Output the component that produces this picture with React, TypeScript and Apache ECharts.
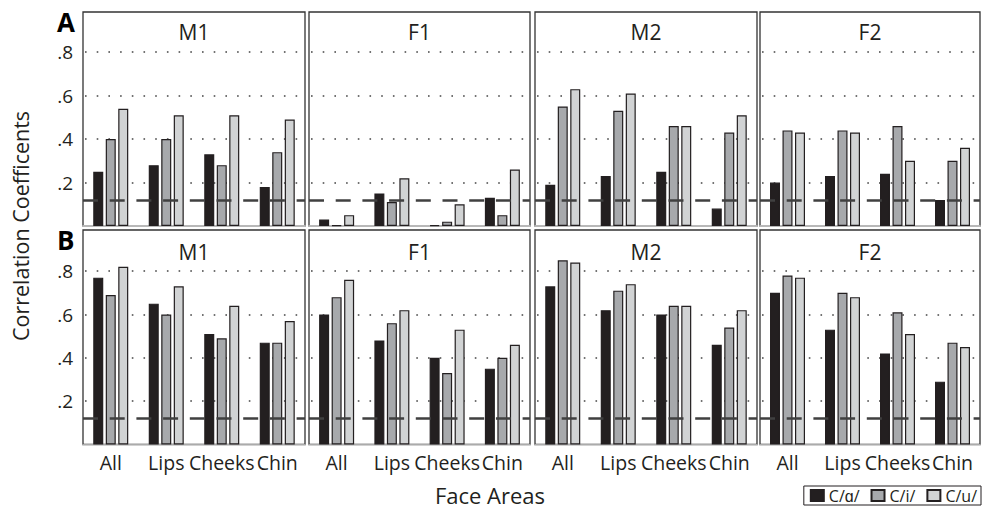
import React, { useEffect, useRef } from "react";
import * as echarts from "echarts";

const categories = ["All", "Lips", "Cheeks", "Chin"];
const speakers = ["M1", "F1", "M2", "F2"];
const vowels = ["C/ɑ/", "C/i/", "C/u/"];
const yTicks = [0.2, 0.4, 0.6, 0.8];
const threshold = 0.12;

// Row A: [C/ɑ/, C/i/, C/u/] per face area
const A_M1 = [[0.25, 0.28, 0.33, 0.18], [0.40, 0.40, 0.28, 0.34], [0.54, 0.51, 0.51, 0.49]];
const A_F1 = [[0.03, 0.15, 0.004, 0.13], [0.003, 0.11, 0.02, 0.05], [0.05, 0.22, 0.10, 0.26]];
const A_M2 = [[0.19, 0.23, 0.25, 0.08], [0.55, 0.53, 0.46, 0.43], [0.63, 0.61, 0.46, 0.51]];
const A_F2 = [[0.20, 0.23, 0.24, 0.12], [0.44, 0.44, 0.46, 0.30], [0.43, 0.43, 0.30, 0.36]];
// Row B
const B_M1 = [[0.77, 0.65, 0.51, 0.47], [0.69, 0.60, 0.49, 0.47], [0.82, 0.73, 0.64, 0.57]];
const B_F1 = [[0.60, 0.48, 0.40, 0.35], [0.68, 0.56, 0.33, 0.40], [0.76, 0.62, 0.53, 0.46]];
const B_M2 = [[0.73, 0.62, 0.60, 0.46], [0.85, 0.71, 0.64, 0.54], [0.84, 0.74, 0.64, 0.62]];
const B_F2 = [[0.70, 0.53, 0.42, 0.29], [0.78, 0.70, 0.61, 0.47], [0.77, 0.68, 0.51, 0.45]];

const rowsData = [
  [A_M1, A_F1, A_M2, A_F2],
  [B_M1, B_F1, B_M2, B_F2],
];

const FONT = '"Open Sans", sans-serif';
const INK = "#231f20";
const barColors = ["#231f20", "#a7a9ac", "#d1d3d4"];

const cols = [
  { left: 83, width: 222 },
  { left: 309, width: 221 },
  { left: 535, width: 222 },
  { left: 760, width: 220 },
];
const rows = [
  { top: 12, height: 214, max: 0.985, label: "A", titleY: 32 },
  { top: 230, height: 214.5, max: 0.99, label: "B", titleY: 252 },
];

export default function App() {
  const ref = useRef<HTMLDivElement>(null);
  useEffect(() => {
    const chart = echarts.init(ref.current!, null, { renderer: "svg" });
    const grid: any[] = [];
    const xAxis: any[] = [];
    const yAxis: any[] = [];
    const series: any[] = [];
    const graphic: any[] = [];
    rows.forEach((r, ri) => {
      graphic.push({
        type: "text",
        x: 57,
        y: r.top + 10,
        style: { text: r.label, font: `bold 26px ${FONT}`, fill: "#000", verticalAlign: "middle", lineHeight: 24 },
      });
      cols.forEach((c, ci) => {
        const gi = grid.length;
        grid.push({
          left: c.left,
          top: r.top,
          width: c.width,
          height: r.height,
          show: true,
          borderColor: "#333",
          borderWidth: 1.3,
          backgroundColor: "#fff",
        });
        xAxis.push({
          type: "category",
          gridIndex: gi,
          data: categories,
          axisTick: { show: false },
          axisLine: { show: true, onZero: false, offset: 2, lineStyle: { color: "#d4d4d4", width: 1.5 } },
          axisLabel: {
            show: ri === 1,
            interval: 0,
            fontSize: 19.5,
            fontFamily: FONT,
            color: INK,
            margin: 8,
          },
        });
        yAxis.push({
          type: "value",
          gridIndex: gi,
          min: 0,
          max: r.max,
          interval: 0.2,
          axisLine: { show: false },
          axisTick: { show: false },
          splitLine: {
            show: true,
            showMinLine: false,
            showMaxLine: false,
            lineStyle: { type: [1.6, 10.1], color: "#444", width: 1.6, dashOffset: -2 },
          },
          axisLabel: {
            show: ci === 0,
            fontSize: 19,
            lineHeight: 20,
            fontFamily: FONT,
            color: INK,
            margin: 10,
            showMaxLabel: false,
            showMinLabel: false,
            formatter: (v: number) =>
              yTicks.some((t) => Math.abs(t - v) < 1e-6) ? v.toFixed(1).replace(/^0/, "") : "",
          },
        });
        const panel = rowsData[ri][ci];
        vowels.forEach((vn, vi) => {
          const s: any = {
            type: "bar",
            name: vn,
            xAxisIndex: gi,
            yAxisIndex: gi,
            data: panel[vi],
            barWidth: 10,
            barGap: "25%",
            itemStyle: { color: barColors[vi], borderColor: INK, borderWidth: 1.2 },
            emphasis: { disabled: true },
          };
          if (vi === 2) {
            s.markLine = {
              silent: true,
              symbol: "none",
              z: 5,
              label: { show: false },
              lineStyle: { type: [15, 11.7], color: "#404040", width: 2.6 },
              emphasis: { disabled: true },
              data: [{ yAxis: threshold }],
            };
          }
          series.push(s);
        });
        graphic.push({
          type: "text",
          x: c.left + c.width / 2,
          y: r.titleY,
          style: {
            text: speakers[ci],
            font: `21px ${FONT}`,
            fill: INK,
            align: "center",
            verticalAlign: "middle",
          },
        });
      });
    });
    graphic.push({
      type: "text",
      x: 20,
      y: 226,
      rotation: Math.PI / 2,
      style: {
        text: "Correlation Coefficents",
        font: `21.5px ${FONT}`,
        fill: INK,
        align: "center",
        verticalAlign: "middle",
      },
    });
    graphic.push({
      type: "text",
      x: 490,
      y: 495,
      style: { text: "Face Areas", font: `22px ${FONT}`, fill: INK, align: "center", verticalAlign: "middle" },
    });

    chart.setOption({
      animation: false,
      backgroundColor: "#fff",
      grid,
      xAxis,
      yAxis,
      series,
      graphic,
      legend: {
        data: vowels,
        icon: "rect",
        right: 1,
        top: 486,
        itemWidth: 13,
        itemHeight: 11,
        itemGap: 11,
        padding: [1, 4, 1, 6],
        borderColor: INK,
        borderWidth: 1,
        selectedMode: false,
        textStyle: { fontSize: 16, fontFamily: FONT, color: INK, lineHeight: 17 },
      },
    });
    return () => chart.dispose();
  }, []);
  return (
    <div
      ref={ref}
      style={{ position: "fixed", left: 0, top: 0, width: 982, height: 514, background: "#fff" }}
    />
  );
}
